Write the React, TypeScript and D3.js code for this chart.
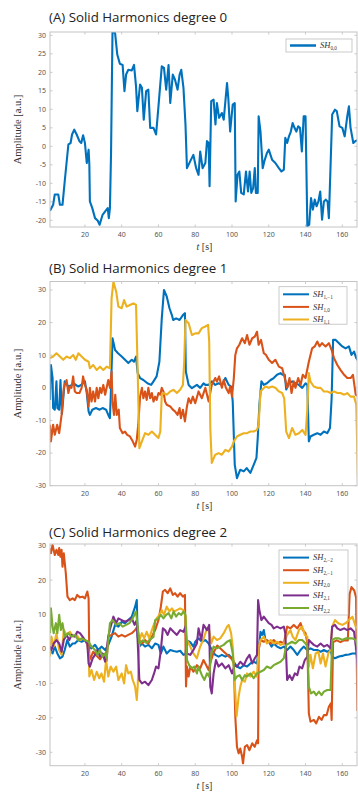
import React, { useRef, useEffect } from "react";
import * as d3 from "d3";

// tick labels / text
const xTicks = [20, 40, 60, 80, 100, 120, 140, 160];
const yTicksA = [-20, -15, -10, -5, 0, 5, 10, 15, 20, 25, 30];
const yTicksB = [-30, -20, -10, 0, 10, 20, 30];
const yTicksC = [-30, -20, -10, 0, 10, 20, 30];
const titles = [
  "(A) Solid Harmonics degree 0",
  "(B) Solid Harmonics degree 1",
  "(C) Solid Harmonics degree 2",
];
const subsA = ["0,0"];
const subsB = ["1,\u22121", "1,0", "1,1"];
const subsC = ["2,\u22122", "2,\u22121", "2,0", "2,1", "2,2"];
const colors = ["#0072BD", "#D95319", "#EDB120", "#7E2F8E", "#77AC30"];

// series: [t (s), amplitude]
const sh00 = [[1,-17.4],[2.7,-15.8],[3.6,-13],[5.5,-13],[6.4,-15.8],[7.8,-15.8],[9,-9.5],[11,0.5],[12.2,0.9],[13,3.2],[14.2,4.5],[15.5,3.2],[17,1.4],[18,0.9],[19,3],[20,0.9],[21,-4.5],[22,-0.9],[22.4,-5],[22.7,-14.9],[24,-16.7],[25.5,-19.4],[27,-20.1],[28,-21.2],[29.6,-18.5],[31,-17.6],[32.4,-16.7],[33,-19.4],[33.6,-16.7],[34.2,-2],[35,31],[36.4,30.6],[37.6,24.8],[39,22.3],[40.5,22],[41.5,14.9],[42.4,19.4],[43.6,20.7],[45.5,20.5],[46.7,22],[47.8,16.2],[48.5,9.5],[50,16.7],[51,15.8],[52,7.2],[53.3,14.9],[54.5,15.3],[55.5,5],[57.3,5],[58.7,3.2],[60,10.8],[61.8,21.6],[63,21.2],[64.2,15.3],[65.5,22],[66.4,11.7],[67.8,19.4],[69,18],[70.4,15.3],[71.5,19.4],[72.4,20.7],[73.6,15.8],[74.7,5.9],[75.5,-5.9],[77.3,-4],[79,-2.3],[80.5,-5.9],[81.8,-7.7],[82.7,-1.4],[84,-5.9],[85.5,-4.5],[86.4,1.4],[87.3,0.9],[87.8,-10.8],[88.7,12.2],[90,12.6],[91,5.9],[91.8,11.7],[93,7.7],[94.5,9],[95.5,7.2],[97.3,17.1],[98,13],[99,4],[100.4,11.3],[101.5,11.7],[102,-14.9],[103,-7.7],[104,-6.8],[105,-12.6],[106.4,-13],[107.6,-6.8],[108.7,-12.2],[109.6,-6.8],[110.5,-12.6],[111.5,-11.3],[112.4,-5.9],[113,-12.6],[114,-12.6],[114.5,8.1],[115.5,4],[116.7,-5.9],[117.6,-4],[119,-1.8],[120,-0.9],[121.8,-3.6],[123.6,-4.5],[125.5,-5.9],[126.9,-6.8],[128.2,-6.3],[129,2.3],[130,0.9],[131,2.7],[132,4],[133,6.3],[134,5],[135,4],[136,5.4],[137,5],[138,-1.4],[139,8.1],[140,8.1],[141,-21.6],[142,-21.2],[143,-14],[144,-17.1],[145,-14.4],[146,-16.2],[147,-14.9],[148,-12.2],[149,-19.8],[150,-14.9],[151,-14.4],[152,-14.9],[152.7,-19.4],[153,-14.9],[154.5,8.6],[156,9.9],[157,9.5],[158.5,5.4],[160,5],[161.3,2.7],[162.7,8.1],[163.6,10.8],[164.5,5],[166,0.9],[167,1.4],[169,1.8]];

const sh1m1 = [[1,-3.7],[1.5,7],[2.4,3],[2.7,-6.2],[3.6,-6.7],[4.5,2],[5,-6.2],[6,-6.7],[6.7,2.4],[7.5,-8],[9,2],[11,0.4],[13,0.9],[14.5,1.1],[16.4,0.4],[18,0.9],[20,2],[21,-1.6],[22,-7.2],[22.7,-8.3],[24,-6.7],[26,-6.2],[28,-6.7],[29.6,-6.2],[31.5,-6.7],[32.7,-8.3],[33.6,-9.3],[34.2,0],[35,15.2],[36.4,11.6],[38,10.6],[40,9.6],[41.8,8.6],[43.6,7.6],[45.5,8.6],[46.7,8],[47.8,9.6],[48.7,4.5],[50,3],[51.8,2.4],[54,1.4],[56,0.9],[57.3,2],[59,3.5],[60.5,8],[61.8,21.3],[63,30],[64.5,28],[66,24.4],[67.3,22.3],[68,20.8],[69.6,21.3],[71.5,20.8],[73.3,22.3],[74.4,22.9],[74.9,5],[76.4,0.9],[78.2,-0.1],[80.9,0.9],[82.7,0],[84.5,1.4],[85.5,0.9],[87.3,0.9],[89,2],[90.9,0.9],[92.7,1.4],[94.5,0.9],[96.4,3],[98.2,0.9],[99.6,0.4],[100.4,-4.2],[101.5,-23.6],[102.7,-27.7],[104.5,-25.1],[106.4,-25.6],[108,-24.6],[110,-26.1],[111.8,-23.6],[113.3,-21.5],[114,-15.4],[114.9,-5.2],[116,2],[117.3,0.9],[119,1.4],[121,2.4],[122.7,3],[124.5,4],[126.4,4.5],[127.6,4],[128.7,4],[129.5,-0.5],[131,1.4],[132.7,2],[134.5,1.4],[136.4,0.9],[138.2,0],[140,1.4],[141,0.9],[141.8,-16.4],[142.7,-14.9],[144.5,-14.4],[146.4,-13.9],[148.2,-14.4],[150,-13.4],[151.8,-13.9],[153.3,-12.3],[154.2,-3.2],[155,14.7],[156.4,14.7],[158.2,13.7],[160,12.7],[161.8,12.1],[163.6,12.7],[165,10.1],[166.4,11.1],[167.6,9.1],[169,8]];

const sh10 = [[1,-11.3],[1.5,-16.4],[2.7,-11.3],[3.6,-14.4],[4.9,-11.3],[6,-13.9],[7.3,-8.3],[8.5,0],[10,2.4],[11,-1.6],[11.8,0.4],[12.7,0],[13.6,3.5],[14.5,-1.1],[15.5,-1.6],[17,-1.6],[18.2,0],[19,3.5],[20,0.9],[21,-0.6],[22,-5.7],[22.7,0],[23.6,-4.2],[24.5,-1.1],[25.5,-4.2],[26.4,0],[27.3,-3.2],[28.2,0],[29,-1.6],[30,0.9],[31,-2.1],[31.8,0],[32.7,2.4],[33.6,0],[34.5,5],[35,-4.2],[35.8,-8.3],[36.5,-2.1],[37.3,-8.3],[38.4,-6.7],[39,-12.3],[40.5,-13.9],[41.8,-13.4],[43,-14.4],[44.5,-14.9],[46,-16.4],[47.3,-18],[48.2,-15.9],[49,-11.3],[50,-2.7],[51,0],[51.8,-3.2],[52.7,-1.1],[53.6,-3.7],[54.5,0],[55.5,-3.2],[56.4,-1.6],[57.3,-4.2],[58.2,-2.7],[59,-3.7],[60,-1.6],[61,-2.1],[61.8,0],[62.7,-1.1],[63.6,-4.2],[64.5,-5.2],[66.4,-5.7],[67.8,-6.7],[69,-7.2],[70.4,-8.3],[71.5,-6.2],[72.2,-9.3],[73.3,-6.7],[74.4,-10.3],[75.5,-5.7],[76.4,-3.2],[77.6,-4.7],[78.7,-2.7],[80,-4.7],[81.8,-1.1],[83.6,-3.2],[85.5,0],[87.3,-4.2],[89,0.9],[90.9,3],[91.8,1.9],[93,3.5],[94.5,0],[95.5,2.4],[96.7,0],[98.2,-1.6],[99,0.4],[100,-2.7],[101,3],[101.8,10.1],[102.7,12.1],[104,13.2],[105.5,15.2],[107,13.7],[108.2,16.2],[109.5,13.2],[111,15.2],[112.4,15.7],[113.6,17.2],[114.5,13.2],[115.8,14.7],[117.3,10.6],[118.5,10.1],[120,8.6],[121.8,7.6],[123.6,8.6],[125.5,6.5],[127.3,6],[128.7,3],[130,0],[131.3,3],[132.4,-1.6],[133.6,2],[134.5,0],[136,3],[137.3,0.9],[138.5,4],[140,3],[141.8,8],[143.6,12.1],[145,12.7],[146.4,14.2],[147.6,12.7],[149,13.7],[150.9,12.7],[152.7,13.7],[154.2,11.6],[155.5,9.1],[157.3,7],[159,5.5],[161,4],[162.7,3],[164.5,3],[165.8,4],[167.3,-2.1],[169,-2.7]];

const sh11 = [[1,9.1],[2.7,9.6],[4.5,10.6],[6.4,9.6],[8.2,8.6],[10,9.6],[11.8,9.1],[13.6,10.1],[15,8.6],[16.4,10.6],[18.2,9.6],[20,8.6],[22,8],[22.7,6],[24.5,7],[26.4,5.5],[28.2,6.5],[30,5.5],[31.8,6.5],[33.6,6],[34.5,27.4],[35.5,32.5],[37,29.5],[38.2,24.9],[40,24.4],[41.3,26.9],[42.7,24.9],[44.5,25.4],[46.4,25.9],[47.8,25.4],[48.7,5],[49.6,-18.5],[51,-16.4],[52.7,-13.9],[54.5,-14.4],[56.4,-13.4],[58.2,-14.4],[60,-15.4],[61,-13.4],[61.8,-2.1],[63,-1.6],[64.5,-2.1],[66.4,-1.1],[68.2,-0.6],[70,-1.6],[71.8,-0.6],[73.3,0.9],[74,8],[74.7,20.8],[76.4,19.8],[78.2,16.2],[80,16.7],[81.8,16.7],[83.6,18.3],[85.5,18.8],[87,19.3],[87.6,14.2],[88.2,-12.3],[89,-23],[90.9,-20.5],[92.7,-20],[94.5,-20.5],[96.4,-19],[98.2,-19.5],[100,-18],[101,-16.4],[102.7,-14.9],[104.5,-14.4],[106.4,-13.9],[108.2,-13.9],[110,-13.4],[111.8,-13.4],[113.6,-12.9],[114.5,-11.3],[115.5,-1.1],[116.4,-0.6],[118.2,0.4],[120,0],[121.8,0.4],[123.6,0],[125.5,-1.1],[127.3,-1.6],[128.4,-3.2],[129.5,-13.4],[131,-15.4],[132.7,-12.3],[134.5,-14.4],[136.4,-13.9],[138.2,-12.9],[140,-14.4],[140.9,-7.2],[141.8,4.5],[142.7,1.9],[144.5,0.4],[146.4,0],[148.2,0],[150,-1.1],[151.8,-1.1],[153.6,-1.6],[155.5,-1.1],[157.3,-1.6],[159,-1.6],[161,-2.1],[162.7,-1.6],[164.5,-2.7],[166.4,-2.7],[167.6,-5.2],[168.5,-27.7]];

const sh2m2 = [[1,-0.3],[2.4,-1.3],[3.6,0.7],[5,-1.3],[6.4,-2.7],[7.8,-2.2],[9,-0.3],[10.4,2.6],[11.8,0.7],[13.3,1.6],[14.5,1.6],[16.4,2.6],[18.2,2.1],[20,2.6],[22,0.7],[23.6,0.2],[25.5,1.2],[27.3,-0.3],[29,0.7],[31,-0.3],[32.7,1.2],[34.5,3.6],[36.4,7],[38.2,6.5],[40,7.9],[41.8,7.5],[43.6,8.4],[45.5,9.4],[47.3,12.3],[48.2,14.2],[48.7,3.6],[49.6,0.7],[51,1.6],[52.7,0.7],[54.5,1.2],[56.4,0.2],[58.2,1.6],[60,1.2],[61.3,-1.3],[62.7,0.7],[64.5,-1.3],[66.4,-0.3],[68.2,-0.6],[70,-0.8],[71.8,-0.5],[73.6,-1.7],[74.7,-1.5],[75.5,2.5],[77.3,2],[79,0.7],[80,2.1],[81.8,3.1],[83.6,2.1],[85.5,2.6],[87.3,1.6],[89,-0.3],[90.9,-1.7],[92.7,-2.2],[94.5,-1.7],[96.4,-2.2],[98.2,-1.7],[100,-2.7],[101.5,-4.2],[102.7,-5.1],[104.5,-5.6],[106.4,-4.7],[108.2,-5.1],[110,-4.2],[111.8,-3.7],[113.6,-4.2],[114.5,-0.3],[115.5,5],[116.4,4.1],[117.3,5.5],[118.2,2.6],[120,2.1],[121.5,0.7],[122.7,1.6],[124.5,0.7],[126.4,0.2],[128.2,0.7],[130,-0.3],[131.8,0.7],[133.6,-0.3],[135.5,-1.7],[137.3,-0.3],[139,0.7],[140.9,-0.3],[142.7,0.2],[144.5,-0.3],[146.4,-0.3],[148.2,-0.8],[150,-0.3],[151.8,-0.8],[153.6,-0.3],[154.5,-2.2],[156,-2.7],[158.2,-2.2],[160,-2],[161.8,-1.7],[163.6,-1.6],[165.5,-1.3],[167.3,-1.3],[169,-1.7]];

const sh2m1 = [[1,29.3],[1.5,27.8],[2.4,30.2],[3.6,27.3],[4.5,28.8],[5.5,27.3],[6,29.3],[6.7,26.8],[7.3,28.8],[7.8,23.9],[8.5,27.8],[9.6,22],[10.5,15.2],[11.8,14.2],[13.3,14.7],[14.5,14.2],[15.8,15.7],[17.3,15],[18.7,15.2],[20,14.7],[21.3,16.7],[22,14.7],[22.4,-3.2],[23,-2.7],[24.5,-0.8],[26.4,-2],[28.2,-3],[30,-1.5],[31.8,-3.5],[32.7,3.6],[34.5,4.1],[36.4,4.6],[38.2,3.6],[40,4.1],[41.8,3.6],[43.6,4.1],[45.5,4.6],[47.3,5.5],[48.5,6.5],[49.6,2.6],[51,1.6],[52.7,2.6],[54.5,1.6],[56.4,3.6],[58.2,5.5],[60,8.4],[61.3,12.3],[62.4,16.7],[63.6,17.2],[65,16.2],[66.4,17.6],[67.8,15.7],[69,16.2],[70.4,15.2],[71.8,16.2],[73.3,15.2],[74.4,15.7],[75,-10.9],[75.5,-5.1],[76.4,-8],[77.3,-5.1],[79,-6.6],[80.9,-4.7],[82.7,-5.6],[84.5,-3.2],[85.5,-4.2],[87.3,-6.1],[88.2,-4],[90,-1],[92,1],[94,0],[96,-1],[98,-2],[100,-3],[101,-4.2],[101.8,-19.7],[102.7,-28.4],[103.6,-30.3],[104.5,-28.9],[105.5,-31.3],[106,-33.2],[107,-28.4],[108.2,-27.9],[109.5,-29.4],[111,-27.4],[112.4,-28.4],[113.6,-26.5],[114.2,-27.4],[114.5,-0.3],[115.5,2.6],[117.3,2.1],[119,2.6],[121,1.6],[122.7,2.6],[124.5,1.6],[126.4,2.1],[128.2,1.6],[130,6.5],[131.8,6],[133.6,7],[135.5,6],[137.3,7.5],[138.5,5.5],[140,4.6],[141,1.6],[141.8,-18.7],[142.7,-21.1],[144.5,-20.6],[145.8,-21.6],[147.3,-19.7],[148.7,-20.6],[150,-19.2],[151.5,-19.2],[152.7,-16.8],[153.8,-15.8],[154.2,-20.6],[155,2],[157,2.5],[159,2],[161,2.5],[163,2.5],[164,16],[165,18],[166.5,17],[167.5,15],[168.2,-18]];

const sh20 = [[1,-2.2],[1.8,3.6],[3,0.7],[4.5,4.6],[6,-0.3],[7.3,-1.7],[8.5,5.5],[10,4.1],[11.8,5],[13.6,3.6],[15.5,4.1],[17.3,2.6],[19,3.1],[21,2.1],[22,-1.3],[22.4,-8],[23.6,-6.1],[25,-9],[26.4,-6.6],[27.8,-8.5],[29,-7.1],[30.4,-9.5],[31.5,-3.2],[32.7,-8],[34,-5.1],[35.5,-6.6],[37,-5.1],[38.2,-9],[40,-7.1],[41.3,-10],[42.4,-4.7],[43.6,-7.1],[45,-6.6],[46,-9],[47.3,-10.9],[48.2,-14.8],[48.7,-10.9],[49.6,2.6],[51,4.6],[52.2,3.1],[53.6,5],[55,3.1],[56.4,5.5],[57.8,7.5],[59,8.9],[60.5,9.9],[61.8,11.3],[63,9.9],[64.5,12.3],[66,10.9],[67.3,11.8],[68.5,10.9],[70,11.3],[71.8,11.8],[73.6,11.3],[74.7,9.4],[75.5,2.6],[77.3,0.7],[79,-1.3],[80.9,-2.7],[82.7,0.7],[84.3,2.6],[86.4,6],[87.6,5.5],[88.7,1.6],[90,3.6],[91.8,2.6],[93.6,3.1],[95.5,4.6],[97.3,6.5],[98.2,7],[99.5,4.6],[100.4,0.7],[101.5,-10],[102.5,-19.5],[103.6,-13.9],[104.5,-11],[105.5,-9],[107,-9.5],[108.2,-7.1],[110,-8],[111.8,-6.6],[113.6,-8],[114.5,0.7],[115.5,2.6],[117.3,3.6],[119,1.6],[121,2.6],[122.7,1.6],[124.5,2.1],[126.4,1.2],[128.2,1.6],[130,4.1],[131.8,5.5],[133,3.6],[134.5,2.6],[136.4,5.5],[138.2,6.5],[139.6,4.1],[141,3.6],[141.8,-5.1],[142.7,-1.7],[144,-5.6],[145.5,-1.3],[147,-0.8],[148.2,-4.2],[149.5,-1.3],[150.9,-5.1],[152.4,-1.3],[153.6,-0.3],[154.5,6.5],[156,8.4],[157.8,7.5],[160,7],[161.8,7.5],[163.6,8.4],[165.5,9.4],[167.3,6.5],[169,5.5]];

const sh21 = [[1,0.7],[1.8,-0.3],[3,1.6],[4.5,2.6],[6,1.6],[7.3,-0.8],[8.5,2.6],[10,4.1],[11.5,2.6],[12.7,4.1],[14.5,3.6],[15.8,5],[17.3,4.6],[18.7,3.6],[20,2.6],[21.3,1.6],[22,-4.2],[22.7,-5.1],[24.2,-2.7],[25.5,-1.7],[26.7,-0.3],[28.2,-2.2],[29.6,-1.3],[31,-3.7],[31.8,-0.3],[32.7,3.6],[34,6.5],[35.5,9.4],[37,7.5],[38.2,8.9],[40,8.4],[41.8,7.9],[43.6,8.4],[45.5,8.9],[47,7],[48.2,8.4],[48.9,-0.3],[49.6,-9],[51,-10],[52.7,-9.5],[54.5,-10.5],[56.4,-9],[57.6,-7.1],[58.7,-5.1],[60,-5.6],[61.3,-0.3],[62.4,6],[63.6,5.5],[65,4.1],[66.4,6],[68.2,5],[70,4.1],[71.8,5.5],[73.6,5],[74.7,6.5],[75.5,-1.3],[77.3,-1.7],[79,-0.3],[80.9,1.6],[81.8,6],[83.3,2.6],[84.5,7],[86.4,5.5],[87.6,7],[88.2,-11],[89,-12.9],[90,-7.1],[91.3,-3.2],[92.7,-5.1],[94.5,-4.2],[96.4,-5.6],[98.2,-4.7],[100,-7.1],[101.5,-4.7],[102.7,-5.1],[104.5,-3.7],[106.4,-4.7],[108.2,-2.7],[109.5,-1.7],[111,-4.2],[112.4,-2.7],[113.6,-1.7],[114.2,14.2],[114.9,11.3],[116,8.4],[117.3,9.4],[118.7,8.4],[120,7.5],[121.5,7],[122.7,6],[124.5,6.5],[126.4,6],[128.2,6.5],[129,4.6],[130,-9],[131.3,-7.6],[132.7,-9],[134.2,-7.1],[135.5,-7.6],[136.7,-5.1],[138.2,-5.6],[139.6,-3.2],[141,-2.2],[141.8,2.6],[142.7,2.1],[144.5,1.2],[146.4,0.7],[148.2,1.6],[150,0.7],[151.8,1.2],[153.6,0.2],[154.5,6.5],[156,7],[157.3,6],[159,5.5],[161,6],[162.7,5.5],[164.5,6],[166.4,5],[167.6,-0.3],[168.7,-7.1]];

const sh22 = [[1,4.6],[1.5,11.8],[2.4,6.5],[3,4.6],[4.2,7.5],[5,4.6],[6,9.9],[6.9,5.5],[7.8,7.5],[9,3.6],[10.9,4.6],[12.7,3.6],[14.5,4.1],[16.4,2.6],[18.2,3.1],[20,2.6],[22,2.1],[23.6,0.7],[25.5,-0.3],[26.7,-1.7],[28.2,-0.3],[29.6,-2.2],[31,-1.3],[31.8,-2.7],[32.7,2.6],[33.6,7.5],[35,8.4],[37,7],[38.7,7.5],[40.5,6.5],[42.4,7],[44.2,7.5],[46,8.9],[47.8,10.9],[48.7,6.5],[49.6,1.6],[51.5,2.5],[53.5,1.8],[55.5,2.8],[57.3,3.5],[58.2,8.4],[60,8.9],[61.3,9.9],[62.7,8.9],[64.2,9.9],[65.5,10.4],[67,8.9],[68.2,10.9],[69.6,9.4],[71,10.4],[72.4,9.9],[73.6,10.9],[74.7,9.9],[75.5,-3.2],[76.7,-4.7],[78.2,-5.6],[79.5,-5.1],[80.9,-7.1],[81.8,-5.1],[83.6,-7.6],[85,-9],[86.4,-7.1],[87.6,-8],[88.7,-1.3],[90,0.7],[91.8,0.2],[93.6,0.7],[95.5,1.2],[97.3,2.1],[99,2.6],[100.4,-1.3],[101.5,-9],[102.7,-8],[104.2,-7.6],[105.5,-9],[107,-7.6],[108.2,-8],[110,-7.1],[111.8,-8.5],[113.6,-7.1],[115.5,-6.6],[117.3,-6.1],[119,-5.1],[121,-5.6],[122.7,-4.7],[124.5,-4.2],[126.4,-3.7],[128.2,-2.7],[129.5,1.2],[131,1.6],[132.7,2.1],[134.5,1.6],[136.4,2.6],[138.2,2.6],[140,1.6],[141,0.7],[141.8,-11],[143,-12.9],[144.5,-12.4],[145.8,-13.4],[147.3,-12.4],[148.7,-13.4],[150,-12.4],[151.8,-11.9],[153.6,-11.9],[154.5,2.6],[156,3.1],[158.2,3.1],[160,2.6],[161.8,3.1],[163.6,3.1],[165.5,3.1],[167.3,2.6],[169,-0.3]];

function App() {
  const svgRef = useRef(null);

  useEffect(() => {
    document.body.style.margin = "0";
    var svg = d3.select(svgRef.current);
    svg.selectAll("*").remove();

    var left = 50, right = 357;
    var x = d3.scaleLinear().domain([1, 168]).range([left, right]);

    var panels = [
      { title: titles[0], top: 32, bottom: 227, yDomain: [-21.8, 30.9], yTicks: yTicksA,
        series: [sh00], subs: subsA, leg: { x: 286, y: 39, w: 66, h: 13 }, titleY: 21.5 },
      { title: titles[1], top: 281.5, bottom: 485.7, yDomain: [-30, 32.6], yTicks: yTicksB,
        series: [sh1m1, sh10, sh11], subs: subsB, leg: { x: 279, y: 286.7, w: 68, h: 37.5 }, titleY: 272.5 },
      { title: titles[2], top: 544, bottom: 765.7, yDomain: [-33.9, 30.5], yTicks: yTicksC,
        series: [sh2m2, sh2m1, sh20, sh21, sh22], subs: subsC, leg: { x: 279, y: 550, w: 69, h: 65 }, titleY: 536.5 },
    ];

    panels.forEach(function (p, pi) {
      var y = d3.scaleLinear().domain(p.yDomain).range([p.bottom, p.top]);
      var g = svg.append("g");

      g.append("text")
        .attr("x", 49)
        .attr("y", p.titleY)
        .attr("font-family", "'Open Sans', sans-serif")
        .attr("font-size", 13.3)
        .attr("fill", "#222")
        .text(p.title);

      var clipId = "clip" + pi;
      g.append("clipPath").attr("id", clipId)
        .append("rect")
        .attr("x", left).attr("y", p.top)
        .attr("width", right - left).attr("height", p.bottom - p.top);

      // ticks (inward, both sides)
      var tk = g.append("g").attr("stroke", "#bdbdbd").attr("stroke-width", 0.8);
      xTicks.forEach(function (t) {
        tk.append("line").attr("x1", x(t)).attr("x2", x(t)).attr("y1", p.bottom).attr("y2", p.bottom - 2.5);
        tk.append("line").attr("x1", x(t)).attr("x2", x(t)).attr("y1", p.top).attr("y2", p.top + 2.5);
      });
      p.yTicks.forEach(function (v) {
        tk.append("line").attr("x1", left).attr("x2", left + 2.5).attr("y1", y(v)).attr("y2", y(v));
        tk.append("line").attr("x1", right).attr("x2", right - 2.5).attr("y1", y(v)).attr("y2", y(v));
      });

      // tick labels
      g.selectAll(".xl").data(xTicks).enter().append("text")
        .attr("x", function (d) { return x(d); })
        .attr("y", p.bottom + 10)
        .attr("text-anchor", "middle")
        .attr("font-family", "'Noto Sans', sans-serif")
        .attr("font-size", 7)
        .attr("fill", "#555")
        .text(function (d) { return d; });
      g.selectAll(".yl").data(p.yTicks).enter().append("text")
        .attr("x", left - 4)
        .attr("y", function (d) { return y(d) + 2.4; })
        .attr("text-anchor", "end")
        .attr("font-family", "'Noto Sans', sans-serif")
        .attr("font-size", 7)
        .attr("fill", "#555")
        .text(function (d) { return d; });

      // axis labels
      var xl = g.append("text")
        .attr("x", (left + right) / 2 + 1)
        .attr("y", p.bottom + 23)
        .attr("text-anchor", "middle")
        .attr("font-family", "'Liberation Serif', serif")
        .attr("font-size", 10)
        .attr("fill", "#333");
      xl.append("tspan").attr("font-style", "italic").text("t");
      xl.append("tspan").text(" [s]");

      g.append("text")
        .attr("transform", "translate(21," + (p.top + p.bottom) / 2 + ") rotate(-90)")
        .attr("text-anchor", "middle")
        .attr("font-family", "'Liberation Serif', serif")
        .attr("font-size", 10.5)
        .attr("fill", "#333")
        .text("Amplitude [a.u.]");

      // lines
      var line = d3.line()
        .x(function (d) { return x(d[0]); })
        .y(function (d) { return y(d[1]); });
      var lg = g.append("g").attr("clip-path", "url(#" + clipId + ")");
      p.series.forEach(function (s, i) {
        lg.append("path")
          .datum(s)
          .attr("d", line)
          .attr("fill", "none")
          .attr("stroke", colors[i])
          .attr("stroke-width", 2.1)
          .attr("stroke-linejoin", "round");
      });

      // box
      g.append("rect")
        .attr("x", left).attr("y", p.top)
        .attr("width", right - left).attr("height", p.bottom - p.top)
        .attr("fill", "none")
        .attr("stroke", "#c4c4c4")
        .attr("stroke-width", 1);

      // legend
      var L = p.leg;
      g.append("rect")
        .attr("x", L.x).attr("y", L.y).attr("width", L.w).attr("height", L.h)
        .attr("fill", "#fff").attr("stroke", "#bdbdbd").attr("stroke-width", 0.8);
      p.subs.forEach(function (sub, i) {
        var cy = L.y + (pi === 0 ? 6.5 : 7.6) + i * 12.6;
        g.append("line")
          .attr("x1", L.x + 4).attr("x2", L.x + 30)
          .attr("y1", cy).attr("y2", cy)
          .attr("stroke", colors[i]).attr("stroke-width", pi === 0 ? 2.5 : 2);
        var t = g.append("text")
          .attr("x", L.x + 34)
          .attr("y", cy + 2.8)
          .attr("font-family", "'Liberation Serif', serif")
          .attr("font-style", "italic")
          .attr("font-size", 8.5)
          .attr("fill", "#333");
        t.append("tspan").text("SH");
        t.append("tspan").attr("font-size", 5.2).attr("dy", 1.8).attr("font-style", "normal").text(sub);
      });
    });
  }, []);

  return (
    <svg
      ref={svgRef}
      width={358}
      height={794}
      style={{ display: "block", position: "absolute", left: 0, top: 0, background: "#fff" }}
    />
  );
}

export default App;
